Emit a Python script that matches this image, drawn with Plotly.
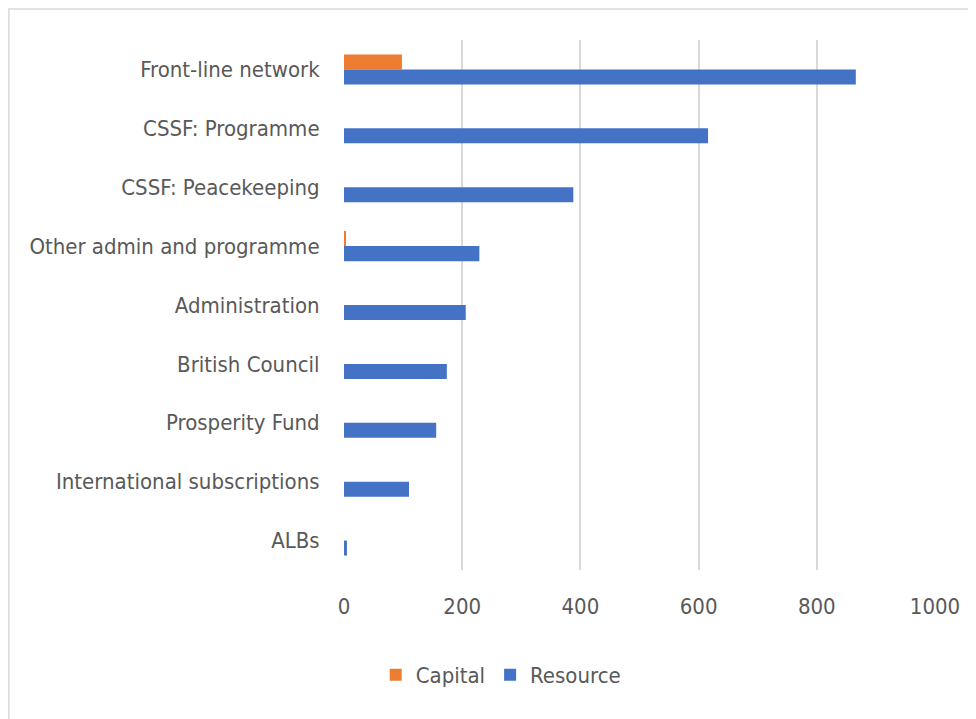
import plotly.graph_objects as go

categories = ["Front-line network", "CSSF: Programme", "CSSF: Peacekeeping",
              "Other admin and programme", "Administration", "British Council",
              "Prosperity Fund", "International subscriptions", "ALBs"]
capital = [98, 0, 0, 2, 0, 0, 0, 0, 0]
resource = [866, 616, 388, 229, 206, 174, 156, 110, 5]
x_ticks = [0, 200, 400, 600, 800, 1000]

FONT = "DejaVu Sans Condensed, sans-serif"
TXT = "#595959"
FS = 22

fig = go.Figure()
fig.add_trace(go.Bar(y=categories, x=capital, orientation="h", name="Capital",
                     marker=dict(color="#ED7D31", line=dict(width=0))))
fig.add_trace(go.Bar(y=categories, x=resource, orientation="h", name="Resource",
                     marker=dict(color="#4472C4", line=dict(width=0))))

fig.update_layout(
    width=968, height=711,
    margin=dict(l=336, r=41, t=32, b=149),
    paper_bgcolor="white", plot_bgcolor="white",
    barmode="group", bargap=0.49, bargroupgap=0,
    font=dict(family=FONT, size=FS, color=TXT),
    xaxis=dict(range=[0, 1000], tickvals=x_ticks, showgrid=True,
               gridcolor="#d9d9d9", gridwidth=2, zeroline=False,
               showline=False, ticks="outside", ticklen=17, tickcolor="white",
               automargin=False,
               tickfont=dict(family=FONT, size=FS, color=TXT)),
    yaxis=dict(autorange="reversed", showgrid=False, zeroline=False,
               showline=False, ticks="outside", ticklen=19, tickcolor="white",
               automargin=False,
               tickfont=dict(family=FONT, size=FS, color=TXT)),
    legend=dict(orientation="h", x=0.266, xanchor="center", y=-0.198,
                yanchor="middle", font=dict(family=FONT, size=FS, color=TXT),
                itemwidth=30, traceorder="normal"),
    shapes=[dict(type="rect", xref="paper", yref="paper",
                 x0=-0.567, x1=2, y0=-2, y1=1.0585,
                 line=dict(color="#d9d9d9", width=1.5), layer="below")],
)

fig.write_html("out.html")
